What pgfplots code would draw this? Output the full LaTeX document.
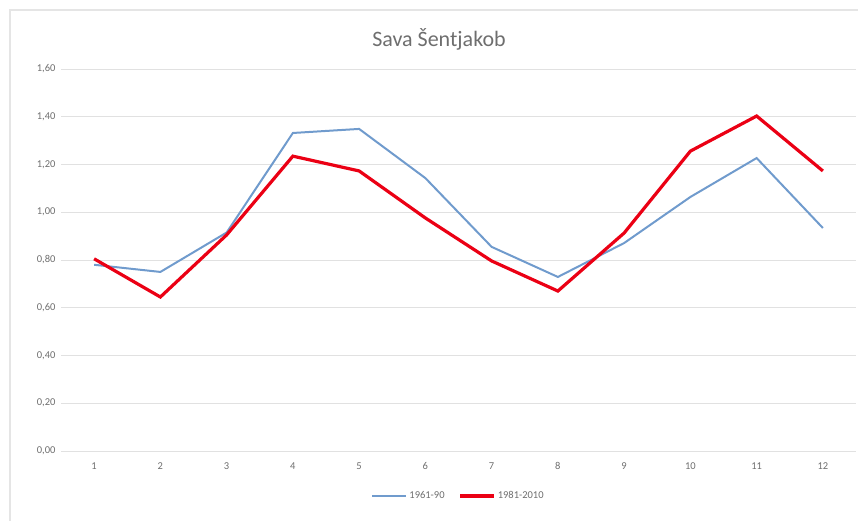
\documentclass[border=0pt]{standalone}
\usepackage{fontspec}
\setmainfont{Carlito}
\usepackage{pgfplots}
\pgfplotsset{compat=1.18}

\definecolor{serblue}{RGB}{112,155,205}
\definecolor{serred}{RGB}{235,0,20}
\definecolor{gridgray}{RGB}{225,225,225}
\definecolor{txtgray}{RGB}{110,110,110}

\begin{document}
\begin{tikzpicture}[x=1pt,y=1pt]
\useasboundingbox (0,0) rectangle (858,520);
\draw[gray!20, line width=1.2pt] (10,-10) -- (10,510) -- (870,510);
\node[font=\fontsize{22}{24}\selectfont, text=txtgray] at (439,481) {Sava Šentjakob};
\begin{axis}[
    at={(61pt,69pt)}, anchor=south west,
    scale only axis,
    width=795pt, height=382pt,
    xmin=0.5, xmax=12.5,
    ymin=0, ymax=1.6,
    xtick={1,...,12},
    ytick={0,0.2,...,1.6},
    ymajorgrids,
    grid style={gridgray, line width=0.8pt},
    axis line style={draw=none},
    major tick length=0pt,
    tick label style={font=\fontsize{10.5}{12}\selectfont, text=txtgray},
    xticklabel style={yshift=-8pt},
    yticklabel style={xshift=-2pt},
    /pgf/number format/assume math mode=true,
    yticklabel={\pgfmathprintnumber[fixed, fixed zerofill, precision=2, use comma]{\tick}},
    legend style={at={(0.5,-0.118)}, anchor=center, draw=none,
        font=\fontsize{10.5}{12}\selectfont, text=txtgray,
        legend columns=-1, /tikz/every even column/.append style={column sep=12pt}},
    legend image code/.code={\draw[#1] (0pt,0pt) -- (34pt,0pt);},
    legend cell align=left,
]
\addplot[serblue, line width=2pt] coordinates {
(1,0.78) (2,0.75) (3,0.915) (4,1.332) (5,1.349) (6,1.143)
(7,0.855) (8,0.729) (9,0.871) (10,1.064) (11,1.227) (12,0.934)};
\addplot[serred, line width=3.2pt] coordinates {
(1,0.805) (2,0.645) (3,0.905) (4,1.235) (5,1.173) (6,0.976)
(7,0.796) (8,0.670) (9,0.913) (10,1.256) (11,1.403) (12,1.173)};
\legend{1961-90, 1981-2010}
\end{axis}
\end{tikzpicture}
\end{document}
